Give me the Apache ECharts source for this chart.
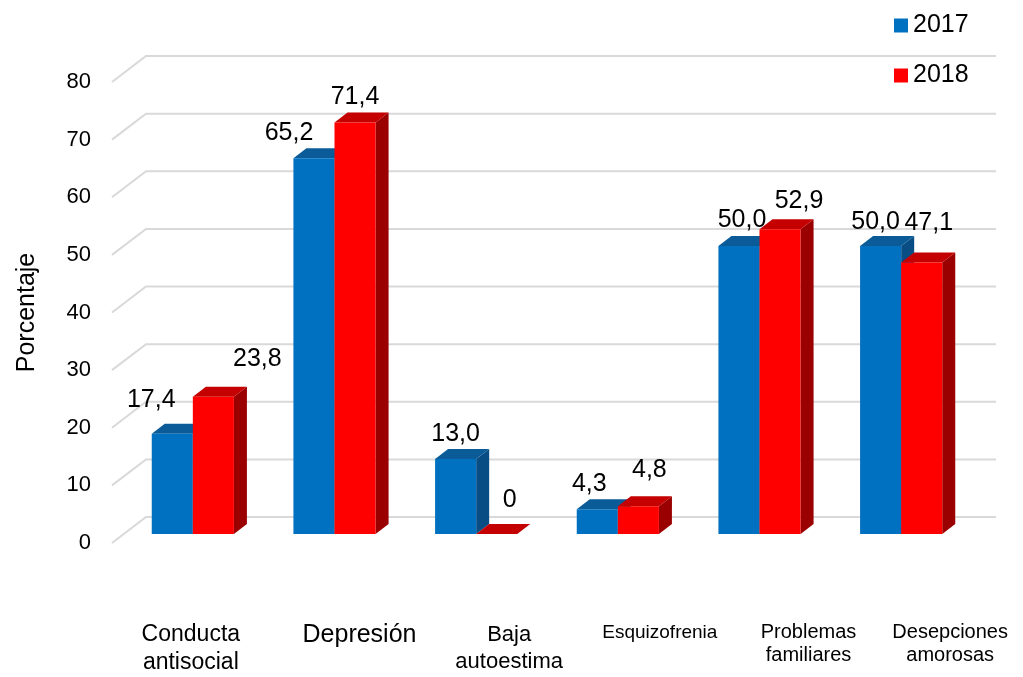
<!DOCTYPE html>
<html>
<head>
<meta charset="utf-8">
<script src="https://cdn.jsdelivr.net/npm/echarts@6.0.0/dist/echarts.min.js"></script>
<style>
  html, body { margin: 0; padding: 0; background: #ffffff; }
  #chart { width: 1023px; height: 677px; }
</style>
</head>
<body>
<div id="chart"></div>
<script>
// ---- data ----
const categories = ['Conducta\nantisocial', 'Depresión', 'Baja\nautoestima', 'Esquizofrenia', 'Problemas\nfamiliares', 'Desepciones\namorosas'];
const values2017 = [17.4, 65.2, 13.0, 4.3, 50.0, 50.0];
const values2018 = [23.8, 71.4, 0, 4.8, 52.9, 47.1];
const yTicks = [0, 10, 20, 30, 40, 50, 60, 70, 80];
const seriesNames = ['2017', '2018'];

// ---- layout / style ----
// small [dx, dy] nudges for the value labels
const labelNudge2017 = [[-23, -9], [-27, 0], [-2, 0], [-10, 0], [1, -1], [-7, 1]];
const labelNudge2018 = [[42, -13], [-2, 0], [11, -9], [9, -11], [17, -3], [5, -14]];

// per-category label font size, line height and horizontal shift
const catLabelStyle = [
  { size: 23, lh: 28, shift: -2 },
  { size: 25, lh: 28, shift: 25 },
  { size: 22, lh: 27, shift: 33 },
  { size: 19, lh: 24, shift: 42 },
  { size: 20, lh: 23, shift: 49 },
  { size: 20, lh: 23, shift: 49 }
];

const FONT = '"Liberation Sans", Arial, sans-serif';
const DEPTH_X = 13, DEPTH_Y = 10;   // bar depth
const WALL_X = 34, WALL_Y = 26;     // floor depth for the gridlines

const colors2017 = { front: '#0070C0', top: '#0A5B98', side: '#084E84' };
const colors2018 = { front: '#FF0000', top: '#C40000', side: '#9A0000' };

function fmt(v) {
  return v === 0 ? '0' : v.toFixed(1).replace('.', ',');
}

function barRenderer(side, colors, nudges) {
  return function (params, api) {
    const idx = api.value(0);
    const val = api.value(1);
    const top = api.coord([idx, val]);
    const base = api.coord([idx, 0]);
    const band = api.size([1, 0])[0];
    const w = band * 0.29;
    const x0 = side === 0 ? top[0] - w : top[0];
    const x1 = x0 + w;
    const yt = top[1], yb = base[1];
    const n = nudges[params.dataIndex];
    return {
      type: 'group',
      children: [
        { type: 'polygon', shape: { points: [[x1, yt], [x1 + DEPTH_X, yt - DEPTH_Y], [x1 + DEPTH_X, yb - DEPTH_Y], [x1, yb]] }, style: { fill: colors.side } },
        { type: 'polygon', shape: { points: [[x0, yt], [x1, yt], [x1 + DEPTH_X, yt - DEPTH_Y], [x0 + DEPTH_X, yt - DEPTH_Y]] }, style: { fill: colors.top } },
        { type: 'rect', shape: { x: x0, y: yt, width: w, height: yb - yt }, style: { fill: colors.front } },
        {
          type: 'text',
          x: (x0 + x1) / 2 + 2 + n[0],
          y: yt - 25 + n[1],
          style: { text: fmt(val), fill: '#000000', fontSize: 25, fontFamily: FONT, align: 'center', verticalAlign: 'middle' }
        }
      ]
    };
  };
}

function gridlineRenderer(params, api) {
  const p = api.coord([0, api.value(1)]);
  const cs = params.coordSys;
  return {
    type: 'polyline',
    shape: { points: [[cs.x, p[1]], [cs.x + WALL_X, p[1] - WALL_Y], [cs.x + cs.width + WALL_X, p[1] - WALL_Y]] },
    style: { stroke: '#D9D9D9', lineWidth: 2, fill: null }
  };
}

const rich = {};
catLabelStyle.forEach((s, i) => {
  rich['c' + i] = {
    fontSize: s.size,
    lineHeight: s.lh,
    fontFamily: FONT,
    color: '#000000',
    padding: s.shift >= 0 ? [0, 0, 0, 2 * s.shift] : [0, -2 * s.shift, 0, 0]
  };
});

const chart = echarts.init(document.getElementById('chart'), null, { renderer: 'canvas' });

chart.setOption({
  animation: false,
  backgroundColor: '#ffffff',
  textStyle: { fontFamily: FONT },
  legend: {
    data: seriesNames,
    orient: 'vertical',
    left: 889,
    top: 8,
    itemWidth: 14,
    itemHeight: 14,
    itemGap: 25,
    icon: 'rect',
    selectedMode: false,
    textStyle: { fontSize: 25, fontFamily: FONT, color: '#000000', lineHeight: 24 }
  },
  grid: [
    { left: 122, right: 51, top: 73, bottom: 143 },   // bars
    { left: 112, right: 61, top: 82, bottom: 134 }    // front edge of the floor / value axis
  ],
  xAxis: [
    {
      gridIndex: 0,
      type: 'category',
      data: categories,
      axisLine: { show: false },
      axisTick: { show: false },
      axisLabel: {
        interval: 0,
        margin: 87,
        formatter: (value, index) => value.split('\n').map(s => '{c' + index + '|' + s + '}').join('\n'),
        rich: rich
      }
    },
    { gridIndex: 1, type: 'value', min: 0, max: 1, show: false }
  ],
  yAxis: [
    { gridIndex: 0, type: 'value', min: 0, max: 80, interval: 10, show: false },
    {
      gridIndex: 1,
      type: 'value',
      min: 0,
      max: 80,
      interval: 10,
      axisLine: { show: false },
      axisTick: { show: false },
      splitLine: { show: false },
      axisLabel: { fontSize: 22, fontFamily: FONT, color: '#000000', margin: 21 },
      name: 'Porcentaje',
      nameLocation: 'middle',
      nameGap: 72,
      nameTextStyle: { fontSize: 25, fontFamily: FONT, color: '#000000' }
    }
  ],
  series: [
    {
      type: 'custom',
      name: 'grid',
      xAxisIndex: 1,
      yAxisIndex: 1,
      silent: true,
      z: 1,
      encode: { x: 0, y: 1 },
      data: yTicks.map(v => [0, v]),
      renderItem: gridlineRenderer
    },
    {
      type: 'custom',
      name: seriesNames[0],
      xAxisIndex: 0,
      yAxisIndex: 0,
      z: 3,
      itemStyle: { color: colors2017.front },
      encode: { x: 0, y: 1 },
      data: values2017.map((v, i) => [i, v]),
      renderItem: barRenderer(0, colors2017, labelNudge2017)
    },
    {
      type: 'custom',
      name: seriesNames[1],
      xAxisIndex: 0,
      yAxisIndex: 0,
      z: 4,
      itemStyle: { color: colors2018.front },
      encode: { x: 0, y: 1 },
      data: values2018.map((v, i) => [i, v]),
      renderItem: barRenderer(1, colors2018, labelNudge2018)
    }
  ]
});
</script>
</body>
</html>
